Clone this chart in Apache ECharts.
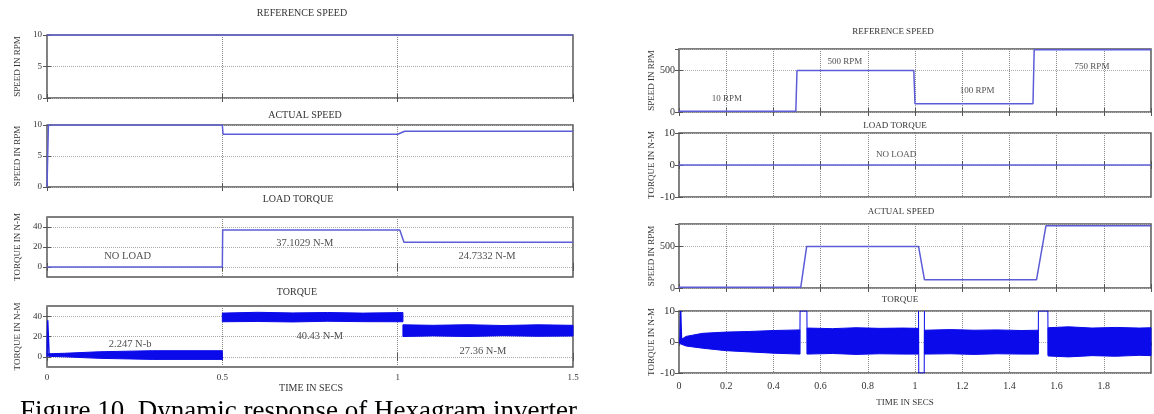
<!DOCTYPE html>
<html><head><meta charset="utf-8">
<script src="https://cdn.jsdelivr.net/npm/echarts@6/dist/echarts.min.js"></script>
<style>html,body{margin:0;padding:0;background:#fff}#c{width:1154px;height:414px}</style>
</head><body><div id="c"></div>
<script>
// ================= DATA =================
// Left figure (time 0..1.5 s)
const leftRefSpeed      = [[0,10],[1.5,10]];
const leftActualSpeed   = [[0,0],[0.004,10],[0.5,10],[0.502,8.5],[1.0,8.5],[1.02,9.0],[1.5,9.0]];
const leftLoadTorque    = [[0,0],[0.5,0],[0.501,37.10],[1.006,37.10],[1.018,24.73],[1.5,24.73]];
const leftTorqueSpike   = [[0,0],[0.002,36],[0.006,2]];
const leftBand1T = [0.004,0.05,0.15,0.3,0.5];
const leftBand1U = [3,3.5,5,6,6];
const leftBand1L = [0.5,0,-1.5,-2.5,-2.5];
const leftBand2T = [0.5,0.6,0.7,0.8,0.9,1.015];
const leftBand2U = [43,43.8,43.2,43.6,43,43.5];
const leftBand2L = [34.5,34.8,34.3,35,34.6,34.5];
const leftBand3T = [1.015,1.1,1.2,1.3,1.4,1.5];
const leftBand3U = [31.5,31,31.6,30.8,31.5,31];
const leftBand3L = [20,20.6,20,20.8,20.2,20.5];
const leftTorqueTicks = [0,20,40];

// Right figure (time 0..2 s)
const rightRefSpeed    = [[0,10],[0.495,10],[0.5,500],[0.995,500],[1.0,100],[1.5,100],[1.505,750],[2,750]];
const rightLoadTorque  = [[0,0],[2,0]];
const rightActualSpeed = [[0,10],[0.516,10],[0.541,500],[1.015,500],[1.04,100],[1.515,100],[1.555,750],[2,750]];
const rightTorqueSpike = [[0.004,0],[0.007,10],[0.011,0]];
const rightGap1 = [[0.512,-3.9],[0.513,10],[0.542,10],[0.543,-3.9]];
const rightGap2 = [[1.015,10],[1.016,-10],[1.039,-10],[1.04,10]];
const rightGap3 = [[1.522,-3.9],[1.523,10],[1.563,10],[1.564,-4.3]];
const rightBand1T = [0.003,0.03,0.1,0.2,0.3,0.4,0.512];
const rightBand1U = [0.5,1.8,2.8,3.2,3.4,3.7,3.9];
const rightBand1L = [-0.5,-1.3,-2.0,-2.8,-3.2,-3.6,-3.9];
const rightBand2T = [0.543,0.65,0.75,0.85,0.95,1.015];
const rightBand2U = [4.5,4.3,4.6,4.4,4.5,4.4];
const rightBand2L = [-3.9,-3.7,-4.0,-3.8,-3.9,-3.9];
const rightBand3T = [1.04,1.15,1.25,1.35,1.45,1.522];
const rightBand3U = [3.8,4.0,3.8,3.9,3.7,3.8];
const rightBand3L = [-3.9,-3.8,-4.0,-3.8,-3.9,-3.9];
const rightBand4T = [1.564,1.65,1.75,1.85,1.95,2.0];
const rightBand4U = [4.6,4.9,4.5,4.7,4.5,4.6];
const rightBand4L = [-4.5,-4.8,-4.4,-4.6,-4.3,-4.4];

// Annotations  [text, t, value]
const leftLoadNotes   = [["NO LOAD",0.23,10.7],["37.1029 N-M",0.735,23.4],["24.7332 N-M",1.255,10.7]];
const leftTorqueNotes = [["2.247 N-b",0.237,12.7],["40.43 N-M",0.778,20.5],["27.36 N-M",1.243,5.9]];
const rightRefNotes   = [["10 RPM",0.203,158],["500 RPM",0.703,610],["100 RPM",1.263,256],["750 RPM",1.75,549]];
const rightLoadNotes  = [["NO LOAD",0.92,3.3]];

const titles = [
  ["REFERENCE SPEED",302,13,10],["ACTUAL SPEED",305,115,10],["LOAD TORQUE",298,199,10],["TORQUE",297,292,10],["TIME IN SECS",311,388,10],
  ["REFERENCE SPEED",893,32,9],["LOAD TORQUE",895,126,9],["ACTUAL SPEED",901,212,9],["TORQUE",900,300,9],["TIME IN SECS",905,403,9]
];
const caption = "Figure 10. Dynamic response of Hexagram inverter";

// ================= CHART =================
const SERIF = "'Liberation Serif', 'DejaVu Serif', serif";
const LINE = '#5c5cd8';
const BAND = '#0a0aea';
const grids = [
  {left:47, top:35,  width:526, height:63},
  {left:47, top:125, width:526, height:62},
  {left:47, top:217, width:526, height:60},
  {left:47, top:306, width:526, height:61},
  {left:679, top:49,  width:472, height:63},
  {left:679, top:133, width:472, height:64},
  {left:679, top:224, width:472, height:64},
  {left:679, top:311, width:472, height:62}
].map(g => Object.assign({show:true, borderColor:'#555', borderWidth:1.5, containLabel:false}, g));

const TICK = {show:true, inside:true, length:4, lineStyle:{color:'#555'}};
function xAx(i, left, showLabels){
  return {
    type:'value', gridIndex:i, min:0, max: left?1.5:2, interval: left?0.5:0.2,
    axisLine:{show:false}, axisTick:TICK,
    axisLabel:{show:showLabels, fontFamily:SERIF, fontSize: left?9:10, color:'#333', margin: left?6:8,
      showMaxLabel: left, formatter: v => String(+v.toFixed(1))},
    splitLine:{show:true, lineStyle:{color:'#888', type:'dotted', width:1}}
  };
}
function yAx(i, opts){
  return Object.assign({
    type:'value', gridIndex:i,
    axisLine:{show:false}, axisTick:TICK,
    axisLabel:{fontFamily:SERIF, fontSize:9, color:'#333', margin:5},
    splitLine:{show:true, lineStyle:{color:'#aaa', type:'dotted', width:1}},
    nameLocation:'middle', nameRotate:90,
    nameTextStyle:{fontFamily:SERIF, fontSize:9, color:'#333'}
  }, opts);
}
const xAxis = [];
for (let i=0;i<8;i++) xAxis.push(xAx(i, i<4, i===3 || i===7));
const yAxis = [
  yAx(0,{min:0,max:10,interval:5,name:'SPEED IN RPM',nameGap:25}),
  yAx(1,{min:0,max:10,interval:5,name:'SPEED IN RPM',nameGap:25}),
  yAx(2,{min:-10,max:50,name:'TORQUE IN N-M',nameGap:25,
        axisTick:Object.assign({customValues:leftTorqueTicks},TICK),
        axisLabel:{fontFamily:SERIF,fontSize:9,color:'#333',margin:5,customValues:leftTorqueTicks}}),
  yAx(3,{min:-10,max:50,name:'TORQUE IN N-M',nameGap:25,
        axisTick:Object.assign({customValues:leftTorqueTicks},TICK),
        axisLabel:{fontFamily:SERIF,fontSize:9,color:'#333',margin:5,customValues:leftTorqueTicks}}),
  yAx(4,{min:0,max:760,interval:500,name:'SPEED IN RPM',nameGap:22,
        axisLabel:{fontFamily:SERIF,fontSize:10,color:'#333',margin:4,showMaxLabel:false}}),
  yAx(5,{min:-10,max:10,interval:10,name:'TORQUE IN N-M',nameGap:22,
        axisLabel:{fontFamily:SERIF,fontSize:11,color:'#333',margin:4}}),
  yAx(6,{min:0,max:770,interval:500,name:'SPEED IN RPM',nameGap:22,
        axisLabel:{fontFamily:SERIF,fontSize:10,color:'#333',margin:4,showMaxLabel:false}}),
  yAx(7,{min:-10,max:10,interval:10,name:'TORQUE IN N-M',nameGap:22,
        axisLabel:{fontFamily:SERIF,fontSize:11,color:'#333',margin:4}})
];
// mirrored tick-only axes on top and right (box ticks)
for (let i=0;i<8;i++){
  const bx = xAxis[i], by = yAxis[i];
  xAxis.push({type:'value', gridIndex:i, position:'top', min:bx.min, max:bx.max, interval:bx.interval,
    axisLine:{show:false}, axisTick:TICK, axisLabel:{show:false}, splitLine:{show:false}});
  yAxis.push({type:'value', gridIndex:i, position:'right', min:by.min, max:by.max, interval:by.interval,
    axisLine:{show:false}, axisTick:by.axisTick, axisLabel:{show:false}, splitLine:{show:false}});
}

const series = [];
function line(i, data, color, width){
  series.push({type:'line', xAxisIndex:i, yAxisIndex:i, data, symbol:'none', animation:false,
    lineStyle:{color:color||LINE, width:width||1.5}, z:3});
}
// noise envelope drawn as a polygon through the axis scales
function band(i, T, U, L){
  series.push({type:'custom', coordinateSystem:'cartesian2d', xAxisIndex:i, yAxisIndex:i, animation:false, z:2,
    data:[[T[0], L[0]]], encode:{x:0, y:1},
    renderItem:(params, api)=>{
      const pts = [];
      for (let k=0;k<T.length;k++) pts.push(api.coord([T[k],U[k]]));
      for (let k=T.length-1;k>=0;k--) pts.push(api.coord([T[k],L[k]]));
      return {type:'polygon', shape:{points:pts}, style:{fill:BAND, stroke:BAND, lineWidth:1}};
    }});
}
function notes(i, arr, size){
  series.push({type:'scatter', xAxisIndex:i, yAxisIndex:i, symbolSize:0, animation:false,
    itemStyle:{color:'transparent'}, z:5,
    label:{show:true, position:'inside', formatter:p=>p.name, fontFamily:SERIF, fontSize:size, color:'#222'},
    data:arr.map(a=>({name:a[0], value:[a[1],a[2]]}))});
}

line(0, leftRefSpeed);
line(1, leftActualSpeed);
line(2, leftLoadTorque);
band(3, leftBand1T, leftBand1U, leftBand1L);
band(3, leftBand2T, leftBand2U, leftBand2L);
band(3, leftBand3T, leftBand3U, leftBand3L);
line(3, leftTorqueSpike, BAND, 1.5);
line(4, rightRefSpeed);
line(5, rightLoadTorque);
line(6, rightActualSpeed);
band(7, rightBand1T, rightBand1U, rightBand1L);
band(7, rightBand2T, rightBand2U, rightBand2L);
band(7, rightBand3T, rightBand3U, rightBand3L);
band(7, rightBand4T, rightBand4U, rightBand4L);
line(7, rightTorqueSpike, BAND, 1.5);
line(7, rightGap1, BAND, 1);
line(7, rightGap2, BAND, 1);
line(7, rightGap3, BAND, 1);
notes(2, leftLoadNotes, 10.5);
notes(3, leftTorqueNotes, 10.5);
notes(4, rightRefNotes, 9);
notes(5, rightLoadNotes, 9);

const graphic = titles.map(t => ({type:'text', x:t[1], y:t[2], silent:true,
  style:{text:t[0], fill:'#333', font:`${t[3]}px ${SERIF}`, textAlign:'center', textVerticalAlign:'middle'}}));
graphic.push({type:'text', x:20, y:398, silent:true,
  style:{text:caption, fill:'#000', font:`27px ${SERIF}`, textAlign:'left', textVerticalAlign:'top'}});

const chart = echarts.init(document.getElementById('c'), null, {renderer:'canvas'});
chart.setOption({backgroundColor:'#fff', animation:false, grid:grids, xAxis, yAxis, series, graphic});
</script></body></html>
